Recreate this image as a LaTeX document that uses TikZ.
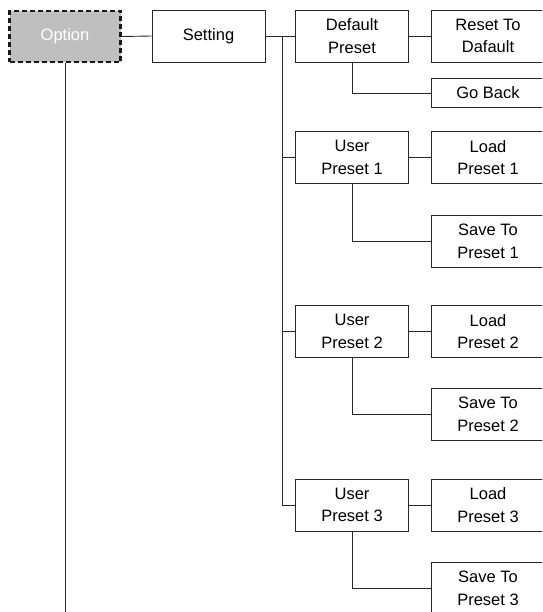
\documentclass[tikz,border=0pt]{standalone}
\usepackage{fontspec}
\setmainfont{Liberation Sans}
\begin{document}
\begin{tikzpicture}[x=1pt,y=-1pt,
  box/.style={draw=black!85, line width=0.9pt, fill=white, minimum width=113pt, minimum height=52pt, inner sep=0pt, align=center, font=\fontsize{16.5}{22.7}\selectfont},
  smallbox/.style={box, minimum height=29pt},
  optbox/.style={box, fill=black!25, text=white, dash pattern=on 5pt off 3pt, line width=2.5pt, draw=black!90, minimum width=111pt, minimum height=51pt},
  wire/.style={draw=black!85, line width=0.9pt}]
\useasboundingbox (0,0) rectangle (542,612);
\clip (0,0) rectangle (542,612);
\node[optbox] (opt) at (65,36.5) {Option};
\node[box] (set) at (208.5,36) {Setting};
\node[box] (def) at (352,36) {Default\\Preset};
\node[box] (reset) at (488,36) {Reset To\\Dafault};
\node[smallbox] (back) at (488,93) {Go Back};
\node[box] (u1) at (352,157.5) {User\\Preset 1};
\node[box] (l1) at (488,157.5) {Load\\Preset 1};
\node[box] (s1) at (488,241) {Save To\\Preset 1};
\node[box] (u2) at (352,331.5) {User\\Preset 2};
\node[box] (l2) at (488,331.5) {Load\\Preset 2};
\node[box] (s2) at (488,414.5) {Save To\\Preset 2};
\node[box] (u3) at (352,505) {User\\Preset 3};
\node[box] (l3) at (488,505) {Load\\Preset 3};
\node[box] (s3) at (488,588) {Save To\\Preset 3};
\coordinate (bus) at (282,36);
\coordinate (optend) at (65,620);
\draw[wire] (opt.south) -- (optend);
\draw[wire] (opt.east) -- (set.west);
\draw[wire] (set.east) -- (def.west);
\draw[wire] (bus) |- (u1.west);
\draw[wire] (bus) |- (u2.west);
\draw[wire] (bus) |- (u3.west);
\draw[wire] (def.east) -- (reset.west);
\draw[wire] (def.south) |- (back.west);
\draw[wire] (u1.east) -- (l1.west);
\draw[wire] (u1.south) |- (s1.west);
\draw[wire] (u2.east) -- (l2.west);
\draw[wire] (u2.south) |- (s2.west);
\draw[wire] (u3.east) -- (l3.west);
\draw[wire] (u3.south) |- (s3.west);
\end{tikzpicture}
\end{document}
